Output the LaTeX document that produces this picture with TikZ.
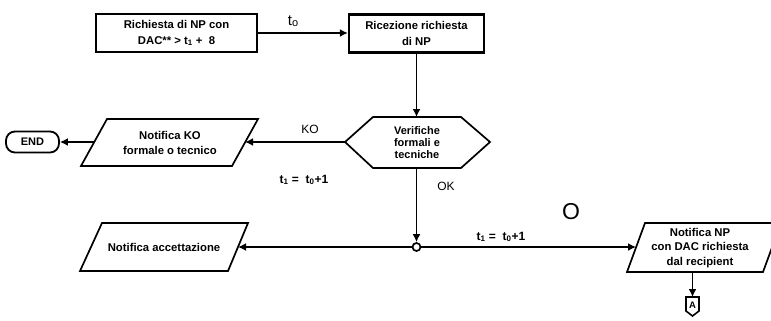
\documentclass[tikz,border=0pt]{standalone}
\usepackage{fontspec}
\setmainfont{Liberation Sans}
\usetikzlibrary{arrows.meta,shapes.geometric}
\begin{document}
\begin{tikzpicture}[x=1pt,y=-1pt,
  box/.style={draw,line width=2.3pt,minimum width=#1,minimum height=38pt,inner sep=0pt,align=center,font=\bfseries\fontsize{11.3}{15.5}\selectfont},
  shp/.style={line width=1.7pt,line join=miter},
  txt/.style={inner sep=0pt,align=center,font=\bfseries\fontsize{11.3}{14.5}\selectfont},
  conn/.style={line width=1.8pt,-{Latex[length=8pt,width=8pt]}},
  lbl/.style={inner sep=0pt,font=\fontsize{12}{12}\selectfont}]
\useasboundingbox (0,0) rectangle (771,321);
\clip (0,0) rectangle (771,321);
% top boxes
\node[box=161pt] (b1) at (176.5,33) {Richiesta di NP con\\DAC** > t\textsubscript{1} +\ \ 8};
\node[box=135pt] (b2) at (416.5,33.5) {Ricezione richiesta\\di NP};
% hexagon
\draw[shp] (345,142)--(373,117)--(461,117)--(490,142)--(461,168)--(373,168)--cycle;
\node[txt,font=\bfseries\fontsize{11}{12}\selectfont] (hx) at (417,142.5) {Verifiche\\formali e\\tecniche};
\coordinate (hxT) at (416.5,117);
\coordinate (hxL) at (345,142);
\coordinate (hxB) at (416.5,168);
% parallelogram KO
\draw[shp] (107,119)--(258,119)--(232,166)--(81,166)--cycle;
\node[txt] (p1) at (170,143) {Notifica KO\\formale o tecnico};
\coordinate (p1R) at (245,142);
\coordinate (p1L) at (94,142);
% END
\node[draw,line width=1.8pt,rounded corners=9pt,minimum width=53pt,minimum height=21pt,inner sep=0pt,font=\bfseries\fontsize{11}{12}\selectfont] (end) at (32.5,142) {END};
% parallelogram accettazione
\draw[shp] (102,223)--(248,223)--(228,271)--(80,271)--cycle;
\node[txt] (p2) at (164,247) {Notifica accettazione};
\coordinate (p2R) at (238,247);
% parallelogram NP
\draw[shp] (645,223)--(781,223)--(763,272)--(627,272)--cycle;
\node[txt] (p3) at (700,248) {Notifica NP\\con DAC richiesta\\dal recipient};
\coordinate (p3L) at (636,247);
\coordinate (p3B) at (692.5,272);
% junction
\node[draw,line width=1.7pt,circle,minimum size=8pt,inner sep=0pt] (j) at (416.5,247) {};
% off-page connector A
\draw[line width=1.6pt] (686,297)--(699,297)--(699,311)--(692.5,316)--(686,311)--cycle;
\node[inner sep=0pt,font=\bfseries\fontsize{9.5}{10}\selectfont] (A) at (692.5,305.5) {A};
\coordinate (AT) at (692.5,297);
% connectors
\draw[conn] (b1.east) -- (b2.west |- b1.east);
\draw[conn] (b2.south) -- (hxT);
\draw[conn] (hxL) -- (p1R);
\draw[conn] (p1L) -- (end.east);
\draw[conn] (hxB) -- (j.north);
\draw[conn] (j.west) -- (p2R);
\draw[conn] (j.east) -- (p3L);
\draw[conn] (p3B) -- (AT);
% labels
\node[inner sep=0pt,font=\fontsize{15}{15}\selectfont\rmfamily] (t0) at (293,21) {t\raisebox{-1pt}{\fontsize{11}{11}\selectfont o}};
\node[lbl] (ko) at (310,129) {KO};
\node[lbl] (ok) at (446,186) {OK};
\node[lbl,font=\bfseries\fontsize{12}{12}\selectfont] (eq1) at (304,180) {t\textsubscript{1} =\ \ t\textsubscript{0}+1};
\node[lbl,font=\bfseries\fontsize{12}{12}\selectfont] (eq2) at (501,237) {t\textsubscript{1} =\ \ t\textsubscript{0}+1};
\node[inner sep=0pt,font=\fontsize{23}{23}\selectfont] (oo) at (571,211.5) {O};
\end{tikzpicture}
\end{document}
